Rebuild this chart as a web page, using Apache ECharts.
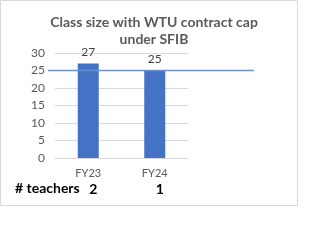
<!DOCTYPE html>
<html><head><meta charset="utf-8">
<script src="https://cdn.jsdelivr.net/npm/echarts@6/dist/echarts.min.js"></script>
<style>html,body{margin:0;padding:0;background:#fff}#c{width:327px;height:242px}</style>
</head><body><div id="c"></div>
<script>
const categories = ['FY23', 'FY24'];
const classSize = [27, 25];
const teachers = [2, 1];
const contractCap = 25;
const yTicks = [0, 5, 10, 15, 20, 25, 30];
const titleText = 'Class size with WTU contract cap\nunder SFIB';
const teachersLabel = '# teachers';

const FONT = 'Lato, "Open Sans", sans-serif';
const chart = echarts.init(document.getElementById('c'), null, {renderer: 'canvas'});
chart.setOption({
  animation: false,
  title: {
    text: titleText,
    left: 149, top: 9, textAlign: 'center',
    textStyle: {fontFamily: FONT, fontSize: 14, fontWeight: 'bold', color: '#595959', lineHeight: 17}
  },
  graphic: [
    {type: 'rect', shape: {x: 0.5, y: 0.5, width: 297, height: 205}, style: {fill: 'none', stroke: '#d9d9d9', lineWidth: 1}, silent: true},
    {type: 'text', left: 15, top: 181, style: {text: teachersLabel, font: 'bold 14px ' + FONT, fill: '#000'}}
  ],
  grid: [
    {left: 55, right: 139, top: 53, bottom: 84},
    {left: 48, right: 73, top: 53, bottom: 84}
  ],
  xAxis: [
    {type: 'category', data: categories, gridIndex: 0,
     axisLine: {show: true, lineStyle: {color: '#d9d9d9'}}, axisTick: {show: false},
     axisLabel: {fontFamily: FONT, fontSize: 11, color: '#595959', margin: 10}},
    {type: 'category', data: teachers, gridIndex: 0, position: 'bottom', offset: 24,
     axisLine: {show: false}, axisTick: {show: false},
     axisLabel: {fontFamily: FONT, fontSize: 14, fontWeight: 'bold', color: '#000', margin: 0, padding: [0, 0, 0, 10]}},
    {type: 'value', gridIndex: 1, min: 0, max: 1, show: false}
  ],
  yAxis: [
    {type: 'value', gridIndex: 0, min: yTicks[0], max: yTicks[yTicks.length - 1], interval: yTicks[1] - yTicks[0],
     axisLine: {show: false}, axisTick: {show: false},
     splitLine: {lineStyle: {color: '#d9d9d9'}},
     axisLabel: {fontFamily: FONT, fontSize: 12, color: '#595959', margin: 10}},
    {type: 'value', gridIndex: 1, min: yTicks[0], max: yTicks[yTicks.length - 1], show: false}
  ],
  series: [
    {type: 'bar', xAxisIndex: 0, yAxisIndex: 0, data: classSize, barWidth: 21,
     itemStyle: {color: '#4472C4'},
     label: {show: true, position: 'top', distance: 5, fontFamily: FONT, fontSize: 12, color: '#404040'}},
    {type: 'line', xAxisIndex: 2, yAxisIndex: 1, data: [[0, contractCap], [1, contractCap]],
     symbol: 'none', lineStyle: {color: '#6f8fd0', width: 1.5}, z: 5}
  ]
});
</script></body></html>
